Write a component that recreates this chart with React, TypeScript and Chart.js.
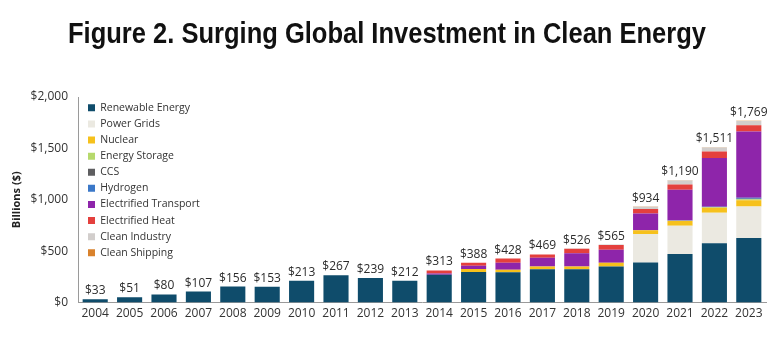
import React, { useEffect, useRef } from "react";
import { Chart, registerables } from "chart.js";

Chart.register(...registerables);

const titleText = "Figure 2. Surging Global Investment in Clean Energy";
const years = ["2004","2005","2006","2007","2008","2009","2010","2011","2012","2013","2014","2015","2016","2017","2018","2019","2020","2021","2022","2023"];
const totals = [33,51,80,107,156,153,213,267,239,212,313,388,428,469,526,565,934,1190,1511,1769];

const renewable = [33,51,80,107,156,153,213,267,239,212,271,298,295,324,325,350,389,472,578,628];
const powerGrids = [0,0,0,0,0,0,0,0,0,0,0,0,0,0,0,0,279,276,296,306];
const nuclear = [0,0,0,0,0,0,0,0,0,0,0,30,25,26,26,38,35,45,48,61];
const energyStorage = [0,0,0,0,0,0,0,0,0,0,0,0,0,0,0,0,2,3,5,10];
const ccs = [0,0,0,0,0,0,0,0,0,0,0,0,0,0,0,0,0,1,2,5];
const hydrogen = [0,0,0,0,0,0,0,0,0,0,0,0,0,0,0,0,0,1,3,11];
const electrifiedTransport = [0,0,0,0,0,0,0,0,0,0,12,30,68,87,128,125,161,299,475,643];
const electrifiedHeat = [0,0,0,0,0,0,0,0,0,0,30,30,40,32,44,47,45,52,62,62];
const cleanIndustry = [0,0,0,0,0,0,0,0,0,0,0,0,0,0,3,5,22,39,40,40];
const cleanShipping = [0,0,0,0,0,0,0,0,0,0,0,0,0,0,0,0,1,2,2,3];

const seriesNames = ["Renewable Energy","Power Grids","Nuclear","Energy Storage","CCS","Hydrogen","Electrified Transport","Electrified Heat","Clean Industry","Clean Shipping"];
const seriesData = [renewable, powerGrids, nuclear, energyStorage, ccs, hydrogen, electrifiedTransport, electrifiedHeat, cleanIndustry, cleanShipping];
const seriesColors = ["#0f4c6b","#ebe9e1","#f6c11c","#b6d96c","#5e5e60","#3b78c8","#8e25aa","#e4403d","#d2cecc","#d9822c"];

const yTicks = [0, 500, 1000, 1500, 2000];

const FONT = "'Open Sans', sans-serif";

const customPlugin = {
  id: "customPlugin",
  afterLayout(chart: any) {
    const lg = chart.legend;
    const ca = chart.chartArea;
    if (lg && ca) {
      lg.left = ca.left + 4.4;
      lg.top = ca.top;
      lg.right = lg.left + lg.width;
      lg.bottom = lg.top + lg.height;
    }
  },
  afterDatasetsDraw(chart: any) {
    const ctx = chart.ctx;
    const y = chart.scales.y;
    const meta0 = chart.getDatasetMeta(0);
    ctx.save();
    ctx.font = `12px ${FONT}`;
    ctx.fillStyle = "#2b2b2b";
    ctx.textAlign = "center";
    ctx.textBaseline = "alphabetic";
    years.forEach((_, i) => {
      let sum = 0;
      seriesData.forEach((s) => (sum += s[i]));
      const x = meta0.data[i].x;
      const py = y.getPixelForValue(sum);
      ctx.fillText("$" + totals[i].toLocaleString("en-US"), x, py - 5);
    });
    ctx.restore();
  },
  afterDraw(chart: any) {
    const ctx = chart.ctx;
    ctx.save();
    ctx.font = "bold 29px 'Liberation Sans', Arial, sans-serif";
    ctx.fillStyle = "#111";
    ctx.textBaseline = "alphabetic";
    ctx.textAlign = "center";
    const w = ctx.measureText(titleText).width;
    const sx = 638 / w;
    ctx.translate(387, 43);
    ctx.scale(sx, 1);
    ctx.fillText(titleText, 0, 0);
    ctx.restore();
  },
};

export default function App() {
  const ref = useRef<HTMLCanvasElement | null>(null);
  useEffect(() => {
    if (!ref.current) return;
    const chart = new Chart(ref.current, {
      type: "bar",
      data: {
        labels: years,
        datasets: seriesNames.map((n, k) => ({
          label: n,
          data: seriesData[k],
          backgroundColor: seriesColors[k],
          borderWidth: 0,
          barPercentage: 0.73,
          categoryPercentage: 1,
        })),
      },
      options: {
        animation: false,
        responsive: true,
        maintainAspectRatio: false,
        layout: { padding: { left: 8, right: 16, top: 97, bottom: 13 } },
        plugins: {
          title: { display: false },
          legend: {
            position: "chartArea" as any,
            align: "start",
            labels: {
              boxWidth: 7,
              boxHeight: 7,
              padding: 5.6,
              color: "#333",
              font: { family: FONT, size: 10.5 },
            },
          },
          tooltip: { enabled: false },
        },
        scales: {
          x: {
            stacked: true,
            grid: { display: false, drawTicks: false },
            border: { display: true, color: "#9a9a9a", width: 1 },
            ticks: { color: "#333", font: { family: FONT, size: 12 }, padding: 4, maxRotation: 0, autoSkip: false },
          },
          y: {
            stacked: true,
            min: 0,
            max: 2000,
            grid: { display: false, drawTicks: false },
            border: { display: true, color: "#9a9a9a", width: 1 },
            afterFit(scale: any) { scale.width = 70; },
            afterBuildTicks(scale: any) { scale.ticks = yTicks.map((v) => ({ value: v })); },
            ticks: {
              color: "#333",
              font: { family: FONT, size: 12 },
              padding: 10,
              callback: (v: any) => "$" + Number(v).toLocaleString("en-US"),
            },
            title: {
              display: true,
              text: "Billions ($)",
              color: "#222",
              font: { family: FONT, size: 11, weight: "bold" },
              padding: { top: 2, bottom: 0 },
            },
          },
        },
      },
      plugins: [customPlugin],
    });
    return () => chart.destroy();
  }, []);
  return (
    <div style={{ position: "fixed", left: 0, top: 0, width: 782, height: 338, background: "#fff" }}>
      <canvas ref={ref} />
    </div>
  );
}
